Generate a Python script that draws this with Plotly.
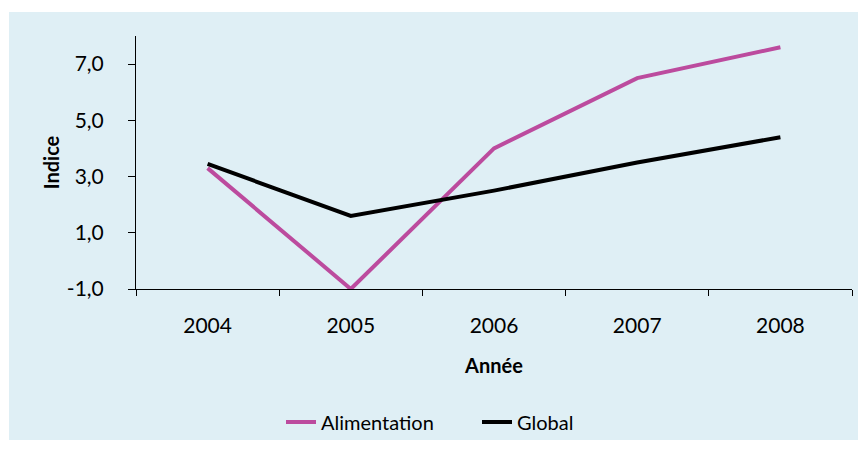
import plotly.graph_objects as go

# Index values by year
years = ["2004", "2005", "2006", "2007", "2008"]
alimentation = [3.3, -1.0, 4.0, 6.5, 7.6]
global_idx = [3.45, 1.6, 2.5, 3.5, 4.4]
y_ticks = [-1, 1, 3, 5, 7]
y_tick_labels = ["-1,0", "1,0", "3,0", "5,0", "7,0"]

FONT = "Lato, 'Open Sans', sans-serif"
PANEL = "#DFEFF5"
PINK = "#BC4B9E"
TICK_FS = 21
TEXT_FS = 20

fig = go.Figure()
fig.add_trace(go.Scatter(x=years, y=alimentation, name="Alimentation", mode="lines",
                         line=dict(color=PINK, width=4)))
fig.add_trace(go.Scatter(x=years, y=global_idx, name="Global", mode="lines",
                         line=dict(color="#000000", width=4)))

W, H = 863, 450
L, R, T, B = 136, 11, 36, 161
pw, ph = W - L - R, H - T - B

def px_x(p):
    return (p - L) / pw

def px_y(p):
    return (H - B - p) / ph

# light blue chart panel
fig.add_shape(type="rect", xref="paper", yref="paper", layer="below",
              x0=px_x(9), x1=px_x(858), y0=px_y(440), y1=px_y(12),
              fillcolor=PANEL, line=dict(width=0))

fig.update_layout(
    width=W, height=H,
    margin=dict(l=L, r=R, t=T, b=B, autoexpand=False),
    paper_bgcolor="white",
    plot_bgcolor="rgba(0,0,0,0)",
    font=dict(family=FONT, size=TICK_FS, color="#000000"),
    showlegend=True,
    legend=dict(orientation="h", xref="container", yref="container",
                x=281 / W, xanchor="left", y=1 - 422 / H, yanchor="middle",
                bgcolor="rgba(0,0,0,0)", font=dict(size=TEXT_FS),
                entrywidth=151, entrywidthmode="pixels"),
    xaxis=dict(
        type="category", range=[-0.5, 4.5], showline=True, linecolor="#000", linewidth=1,
        ticks="outside", ticklen=6, tickcolor="#000", tickson="boundaries",
        showgrid=False, ticklabelstandoff=18, automargin=False,
        title=dict(text="<b>Année</b>", font=dict(size=TEXT_FS), standoff=22),
    ),
    yaxis=dict(
        range=[-1, 8], tickvals=y_ticks, ticktext=y_tick_labels,
        showline=True, linecolor="#000", linewidth=1,
        ticks="outside", ticklen=7, tickcolor="#000",
        showgrid=False, zeroline=False, ticklabelstandoff=20, automargin=False,
        title=dict(text="<b>Indice</b>", font=dict(size=TEXT_FS), standoff=1),
    ),
)

fig.write_html("out.html")
